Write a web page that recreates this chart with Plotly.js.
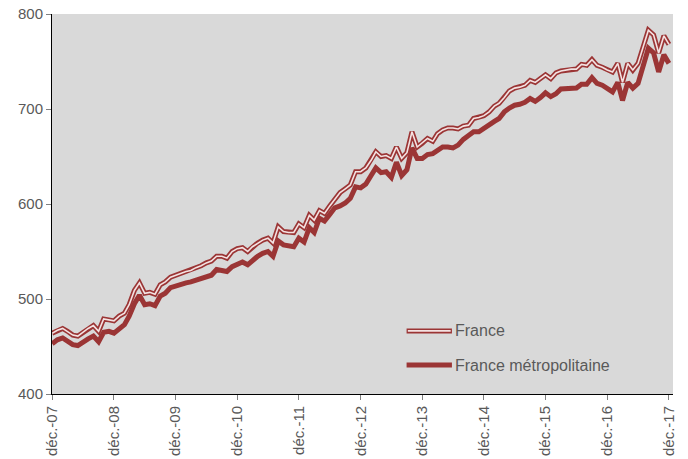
<!DOCTYPE html>
<html>
<head>
<meta charset="utf-8">
<script src="https://cdn.plot.ly/plotly-3.0.1.min.js"></script>
<style>
  body { margin: 0; background: white; }
  #chart { width: 688px; height: 459px; }
</style>
</head>
<body>
<div id="chart"></div>
<script>
// Monthly series, déc. 2007 -> déc. 2017
var startYear = 2007;
var startMonth = 12;

var france = [
  464, 467, 469, 466, 462, 461, 465, 469, 472, 466, 479, 478,
  477, 482, 485, 494, 509, 517, 506, 507, 505, 515, 518, 523,
  525, 527, 529, 530, 533, 535, 538, 540, 545, 545, 543, 550,
  553, 554, 550, 555, 559, 562, 564, 559, 576, 571, 570, 570,
  579, 575, 588, 583, 593, 590, 598, 605, 612, 616, 620, 634,
  634, 638, 646, 655, 650, 651, 648, 660, 648, 654, 676, 660,
  664, 669, 666, 674, 678, 680, 680, 679, 682, 683, 690, 691,
  693, 697, 703, 706, 712, 719, 722, 723, 725, 730, 728, 732,
  736, 732, 738, 740, 741, 742, 742, 747, 746, 752, 746, 744,
  741, 739, 748, 728, 748, 741, 748, 766, 783, 778, 759, 777,
  768
];

var metro = [
  453, 457, 459, 456, 452, 451, 455, 458, 461, 455, 465, 466,
  464, 469, 473, 482, 495, 504, 494, 495, 493, 503, 506, 512,
  514, 515, 517, 518, 520, 521, 523, 525, 531, 530, 529, 534,
  537, 539, 536, 541, 545, 548, 550, 545, 561, 557, 556, 555,
  564, 560, 575, 570, 585, 582, 589, 596, 598, 601, 606, 618,
  617, 621, 630, 638, 633, 634, 628, 644, 630, 636, 659, 648,
  648, 652, 653, 656, 660, 660, 659, 662, 668, 672, 676, 676,
  680, 683, 687, 690, 697, 701, 704, 705, 707, 711, 708, 712,
  717, 713, 716, 721, 721, 721, 722, 726, 726, 733, 727, 725,
  721, 718, 728, 709, 728, 722, 727, 745, 764, 759, 739, 757,
  748
];

var tickLabels = ['déc.-07', 'déc.-08', 'déc.-09', 'déc.-10', 'déc.-11', 'déc.-12',
                  'déc.-13', 'déc.-14', 'déc.-15', 'déc.-16', 'déc.-17'];

var names = ['France', 'France métropolitaine'];

// month dates
function pad(n) { return n < 10 ? '0' + n : '' + n; }
var months = [];
for (var i = 0; i < france.length; i++) {
  var m = startMonth - 1 + i;
  var y = startYear + Math.floor(m / 12);
  months.push(y + '-' + pad((m % 12) + 1) + '-01');
}
var tickVals = [];
for (var k = 0; k < tickLabels.length; k++) {
  tickVals.push((startYear + k) + '-12-01');
}

var red = '#9B3535';
var font = 'Liberation Sans, Arial, sans-serif';

var traceMetro = {
  x: months, y: metro, type: 'scatter', mode: 'lines', name: names[1],
  line: { color: red, width: 5 }
};
// France: double line (dark outline + light core)
var traceFranceOuter = {
  x: months, y: france, type: 'scatter', mode: 'lines', name: names[0],
  line: { color: red, width: 5 }
};
var traceFranceInner = {
  x: months, y: france, type: 'scatter', mode: 'lines', name: names[0],
  line: { color: '#F4E2E2', width: 1.6 }
};

var layout = {
  width: 688, height: 459,
  margin: { l: 52, r: 15, t: 14, b: 65 },
  paper_bgcolor: 'white',
  plot_bgcolor: '#D9D9D9',
  showlegend: false,
  font: { family: font, color: '#595959', size: 15 },
  xaxis: {
    type: 'date',
    range: ['2007-11-30', '2017-12-25'],
    tickvals: tickVals, ticktext: tickLabels,
    tickangle: -90,
    ticks: 'outside', ticklen: 5, tickcolor: '#808080',
    showgrid: false, zeroline: false,
    showline: true, linecolor: '#000000', linewidth: 1,
    tickfont: { size: 15, color: '#595959' }
  },
  yaxis: {
    range: [400, 800], dtick: 100,
    ticks: 'outside', ticklen: 5, tickcolor: '#808080',
    showgrid: false, zeroline: false,
    showline: true, linecolor: '#000000', linewidth: 1,
    tickfont: { size: 15, color: '#595959' }
  },
  // legend drawn by hand to show the double line of "France"
  shapes: [
    { type: 'line', xref: 'paper', yref: 'paper', x0: 0.571, x1: 0.644, y0: 0.166, y1: 0.166,
      line: { color: red, width: 5 } },
    { type: 'line', xref: 'paper', yref: 'paper', x0: 0.573, x1: 0.642, y0: 0.166, y1: 0.166,
      line: { color: '#F4E2E2', width: 1.6 } },
    { type: 'line', xref: 'paper', yref: 'paper', x0: 0.571, x1: 0.644, y0: 0.076, y1: 0.076,
      line: { color: red, width: 5 } }
  ],
  annotations: [
    { xref: 'paper', yref: 'paper', x: 0.646, y: 0.166, xanchor: 'left', yanchor: 'middle',
      text: names[0], showarrow: false, font: { size: 16, color: '#595959' } },
    { xref: 'paper', yref: 'paper', x: 0.646, y: 0.076, xanchor: 'left', yanchor: 'middle',
      text: names[1], showarrow: false, font: { size: 16, color: '#595959' } }
  ]
};

Plotly.newPlot('chart', [traceMetro, traceFranceOuter, traceFranceInner], layout, { staticPlot: true });
</script>
</body>
</html>
